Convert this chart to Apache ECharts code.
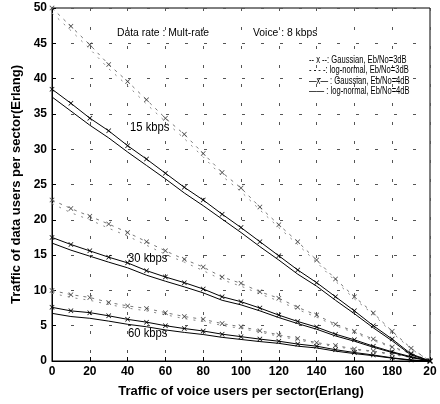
<!DOCTYPE html>
<html>
<head>
<meta charset="utf-8">
<script src="https://cdn.jsdelivr.net/npm/echarts@6/dist/echarts.min.js"></script>
<style>
html,body{margin:0;padding:0;background:#fff;}
#c{width:440px;height:404px;}
</style>
</head>
<body>
<div id="c"></div>
<script>
// x values: voice traffic (Erlang)
var voiceTraffic = [0,10,20,30,40,50,60,70,80,90,100,110,120,130,140,150,160,170,180,190,200];
// tick labels on x axis (last one is cut off in the reference)
var xTickLabels = ['0','20','40','60','80','100','120','140','160','180','20'];

// 15 kbps
var g15_3dB  = [50.0,47.4,44.8,42.0,39.6,37.0,34.4,32.1,29.4,26.7,24.5,21.8,19.3,16.9,14.3,11.6,9.1,6.8,4.2,1.8,0];
var ln15_3dB = [49.3,46.8,44.2,41.4,39.0,36.4,33.9,31.5,28.9,26.2,24.0,21.4,18.9,16.5,14.0,11.3,8.8,6.6,4.0,1.7,0];
var g15_4dB  = [38.5,36.5,34.4,32.6,30.5,28.6,26.6,24.6,22.8,20.8,18.9,16.9,14.9,12.9,11.1,9.1,7.1,5.0,3.1,1.0,0];
var ln15_4dB = [37.4,35.4,33.4,31.6,29.6,27.7,25.8,23.8,22.0,20.1,18.2,16.2,14.3,12.3,10.6,8.6,6.7,4.7,2.85,0.85,0];
// 30 kbps
var g30_3dB  = [22.8,21.6,20.5,19.4,18.2,16.9,15.6,14.4,13.3,11.9,11.0,9.8,8.9,7.6,6.5,5.2,4.2,3.1,2.0,1.1,0];
var ln30_3dB = [22.3,21.0,20.0,18.8,17.7,16.4,15.1,14.0,12.8,11.5,10.6,9.5,8.5,7.3,6.2,5.0,4.0,2.9,1.9,1.0,0];
var g30_4dB  = [17.5,16.5,15.6,14.7,13.9,12.8,11.9,11.1,10.2,9.1,8.4,7.5,6.5,5.6,4.8,3.8,3.0,2.1,1.3,0.6,0];
var ln30_4dB = [16.7,15.7,14.85,14.0,13.2,12.15,11.3,10.5,9.65,8.6,7.95,7.1,6.15,5.3,4.5,3.55,2.8,1.95,1.2,0.5,0];
// 60 kbps
var g60_3dB  = [10.0,9.4,9.0,8.3,7.8,7.45,6.85,6.3,5.9,5.3,4.85,4.3,3.7,3.2,2.6,2.2,1.7,1.4,1.0,0.55,0];
var ln60_3dB = [9.6,9.0,8.6,8.0,7.5,7.1,6.55,6.0,5.6,5.05,4.6,4.1,3.5,3.0,2.45,2.05,1.6,1.3,0.9,0.5,0];
var g60_4dB  = [7.6,7.1,6.85,6.4,5.9,5.5,5.0,4.6,4.25,3.8,3.45,3.1,2.8,2.4,2.1,1.6,1.2,0.85,0.45,0.15,0];
var ln60_4dB = [6.75,6.3,6.05,5.65,5.2,4.85,4.4,4.05,3.75,3.35,3.05,2.75,2.5,2.1,1.85,1.4,1.05,0.75,0.4,0.1,0];

var FONT = '"Liberation Sans", Arial, sans-serif';
var XMARK = 'path://M0,1L1,0L5,4L9,0L10,1L6,5L10,9L9,10L5,6L1,10L0,9L4,5Z';

function pairs(arr){ return voiceTraffic.map(function(x,i){ return [x, arr[i]]; }); }

function gauss3(arr){
  return {type:'line', data:pairs(arr), symbol:XMARK, symbolSize:5, showSymbol:true,
    itemStyle:{color:'#444'}, lineStyle:{color:'#777', width:1, type:[3,5]}, silent:true, z:3};
}
function logn3(arr){
  return {type:'line', data:pairs(arr), symbol:'none',
    lineStyle:{color:'#888', width:1, type:[2,6]}, silent:true, z:2};
}
function gauss4(arr){
  return {type:'line', data:pairs(arr), symbol:XMARK, symbolSize:5, showSymbol:true,
    itemStyle:{color:'#000'}, lineStyle:{color:'#000', width:1}, silent:true, z:4};
}
function logn4(arr){
  return {type:'line', data:pairs(arr), symbol:'none',
    lineStyle:{color:'#000', width:1}, silent:true, z:4};
}

function note(x, y, text, size, sx){
  return {type:'text', x:x, y:y, scaleX:sx, scaleY:1, z:10,
    style:{text:text, font:size+'px '+FONT, fill:'#000', textVerticalAlign:'middle'}};
}

var chart = echarts.init(document.getElementById('c'), null, {renderer:'canvas'});
chart.setOption({
  animation:false,
  backgroundColor:'#fff',
  grid:{left:52, right:10, top:8, bottom:43, show:true, borderColor:'#000', borderWidth:1},
  xAxis:{
    type:'value', min:0, max:200, interval:20,
    name:'Traffic of voice users per sector(Erlang)', nameLocation:'middle', nameGap:24,
    nameTextStyle:{fontFamily:FONT, fontSize:13, color:'#000', fontWeight:'bold'},
    axisLine:{lineStyle:{color:'#000'}},
    axisTick:{inside:true, length:4, lineStyle:{color:'#000'}},
    axisLabel:{fontFamily:FONT, fontSize:12, color:'#000', fontWeight:'bold', margin:5,
      formatter:function(v){ return xTickLabels[Math.round(v/20)]; }},
    splitLine:{show:true, lineStyle:{color:'#555', width:1, type:[3,16]}}
  },
  yAxis:{
    type:'value', min:0, max:50, interval:5,
    name:'Traffic of data users per sector(Erlang)', nameLocation:'middle', nameGap:28,
    nameTextStyle:{fontFamily:FONT, fontSize:13, color:'#000', fontWeight:'bold'},
    axisLine:{lineStyle:{color:'#000'}},
    axisTick:{inside:true, length:4, lineStyle:{color:'#000'}},
    axisLabel:{fontFamily:FONT, fontSize:12, color:'#000', fontWeight:'bold', margin:5},
    splitLine:{show:true, lineStyle:{color:'#555', width:1, type:[3,16]}}
  },
  series:[
    logn3(ln15_3dB), gauss3(g15_3dB), logn4(ln15_4dB), gauss4(g15_4dB),
    logn3(ln30_3dB), gauss3(g30_3dB), logn4(ln30_4dB), gauss4(g30_4dB),
    logn3(ln60_3dB), gauss3(g60_3dB), logn4(ln60_4dB), gauss4(g60_4dB)
  ],
  graphic:[
    note(117, 33, 'Data rate : Mult-rate', 11.5, 0.9),
    note(253, 33, 'Voice : 8 kbps', 11.5, 0.9),
    note(309, 60, '-- x --: Gaussian, Eb/No=3dB', 11.5, 0.66),
    note(309, 70, '- - - -: log-normal, Eb/No=3dB', 11.5, 0.66),
    note(309, 81, '\u2014x\u2014 : Gaussian, Eb/No=4dB', 11.5, 0.66),
    note(309, 91, '\u2014\u2014 : log-normal, Eb/No=4dB', 11.5, 0.66),
    note(130, 128, '15 kbps', 12.5, 0.9),
    note(128, 259, '30 kbps', 12.5, 0.9),
    note(128, 334, '60 kbps', 12.5, 0.9)
  ]
});
</script>
</body>
</html>
